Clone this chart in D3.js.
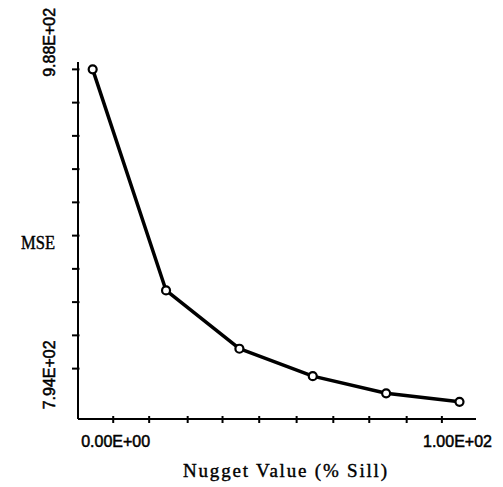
<!DOCTYPE html>
<html>
<head>
<meta charset="utf-8">
<script src="https://cdn.jsdelivr.net/npm/d3@7"></script>
<style>
  body { margin: 0; background: #fff; }
  svg { display: block; }
  text { fill: #000; }
</style>
</head>
<body>
<svg id="chart"></svg>
<script>
// values
const nugget = [0, 20, 40, 60, 80, 100];
const mse = [988, 859, 825, 809, 799, 794];
const xTicks = [5.6, 15.4, 25.9, 35.4, 45.4, 55.6, 65.6, 75.4, 85.6, 95.2];
const yTicks = [988, 968.6, 949.2, 929.8, 910.4, 891, 871.6, 852.2, 832.8, 813.4];
const xTickLabels = [{v: 0, t: '0.00E+00'}, {v: 100, t: '1.00E+02'}];
const yTickLabels = [{v: 988, t: '9.88E+02'}, {v: 794, t: '7.94E+02'}];

const width = 503, height = 487;

const svg = d3.select('#chart')
  .attr('width', width)
  .attr('height', height);

const x = d3.scaleLinear().domain([-4, 104.5]).range([78, 476]);
const y = d3.scaleLinear().domain([784, 992.3]).range([419, 62]);

const [x0, x1] = x.range();
const [yBottom, yTop] = y.range();

// axis lines
svg.append('line')
  .attr('x1', x0).attr('x2', x0)
  .attr('y1', yTop).attr('y2', yBottom)
  .attr('stroke', '#000').attr('stroke-width', 2);

svg.append('line')
  .attr('x1', x0).attr('x2', x1)
  .attr('y1', yBottom).attr('y2', yBottom)
  .attr('stroke', '#000').attr('stroke-width', 2);

// tick marks
svg.selectAll('.ytick')
  .data(yTicks)
  .join('line')
  .attr('class', 'ytick')
  .attr('x1', x0 - 6).attr('x2', x0 + 1.5)
  .attr('y1', d => y(d)).attr('y2', d => y(d))
  .attr('stroke', '#000').attr('stroke-width', 2);

svg.selectAll('.xtick')
  .data(xTicks)
  .join('line')
  .attr('class', 'xtick')
  .attr('x1', d => x(d)).attr('x2', d => x(d))
  .attr('y1', yBottom - 3).attr('y2', yBottom + 4)
  .attr('stroke', '#000').attr('stroke-width', 2);

// tick labels
svg.selectAll('.xlab')
  .data(xTickLabels)
  .join('text')
  .attr('class', 'xlab')
  .attr('x', (d, i) => x(d.v) + (i === 0 ? 23 : -2))
  .attr('y', 447)
  .attr('text-anchor', 'middle')
  .attr('font-family', 'Liberation Sans, Arial, sans-serif')
  .attr('font-size', 16)
  .attr('stroke', '#000').attr('stroke-width', 0.5)
  .text(d => d.t);

svg.selectAll('.ylab')
  .data(yTickLabels)
  .join('text')
  .attr('class', 'ylab')
  .attr('transform', d => `translate(55,${y(d.v) - 27}) rotate(-90)`)
  .attr('text-anchor', 'middle')
  .attr('font-family', 'Liberation Sans, Arial, sans-serif')
  .attr('font-size', 16)
  .attr('stroke', '#000').attr('stroke-width', 0.5)
  .text(d => d.t);

// axis titles
svg.append('text')
  .attr('x', 21).attr('y', 249)
  .attr('font-family', 'Liberation Serif, Times New Roman, serif')
  .attr('font-size', 18)
  .attr('stroke', '#000').attr('stroke-width', 0.4)
  .attr('textLength', 34)
  .attr('lengthAdjust', 'spacingAndGlyphs')
  .text('MSE');

svg.append('text')
  .attr('x', 183).attr('y', 477)
  .attr('font-family', 'Liberation Serif, Times New Roman, serif')
  .attr('font-size', 19)
  .attr('stroke', '#000').attr('stroke-width', 0.4)
  .attr('textLength', 204)
  .attr('lengthAdjust', 'spacing')
  .text('Nugget Value (% Sill)');

// series
const line = d3.line()
  .x((d, i) => x(nugget[i]))
  .y(d => y(d));

svg.append('path')
  .attr('d', line(mse))
  .attr('fill', 'none')
  .attr('stroke', '#000')
  .attr('stroke-width', 3.5)
  .attr('stroke-linejoin', 'round');

svg.selectAll('.pt')
  .data(mse)
  .join('circle')
  .attr('class', 'pt')
  .attr('cx', (d, i) => x(nugget[i]))
  .attr('cy', d => y(d))
  .attr('r', 4)
  .attr('fill', '#fff')
  .attr('stroke', '#000')
  .attr('stroke-width', 2.2);
</script>
</body>
</html>
